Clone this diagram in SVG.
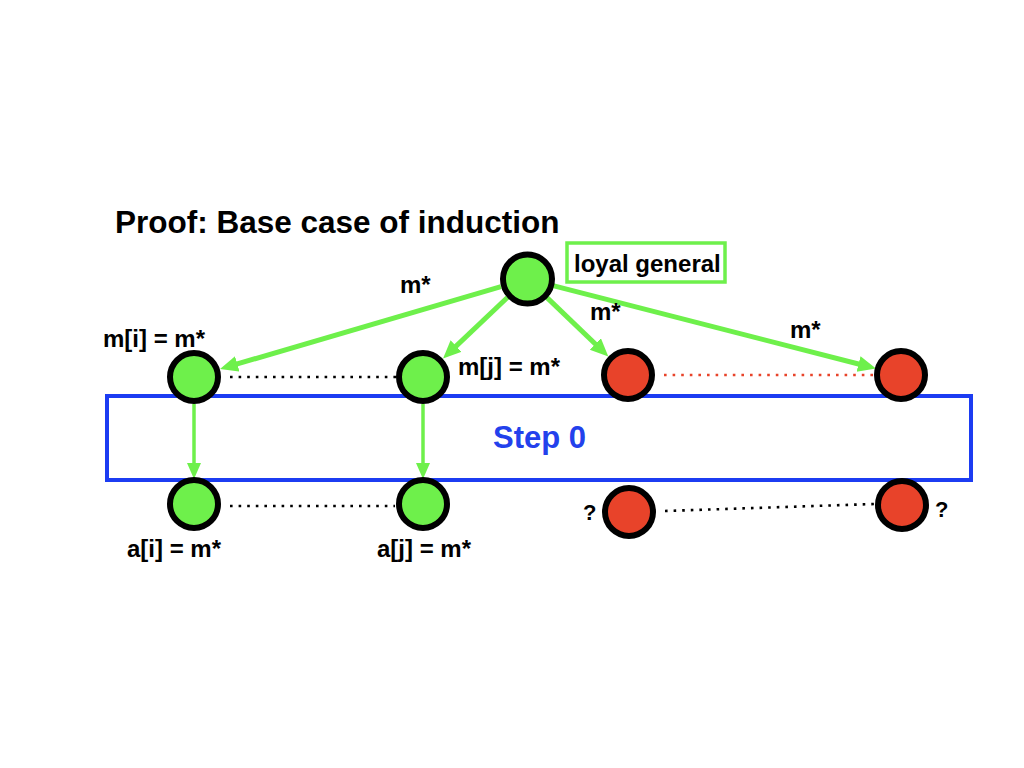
<svg xmlns="http://www.w3.org/2000/svg" width="1024" height="768" viewBox="0 0 1024 768">
<style>
text{font-family:"Liberation Sans",Arial,sans-serif;font-weight:bold;fill:#000}
.lbl{font-size:24px}
.node{stroke:#000;stroke-width:6}
.g{fill:#6EF04B}
.r{fill:#E8432A}
.arr{stroke:#6EF04B;stroke-width:5;fill:none}
.varr{stroke:#6EF04B;stroke-width:3.5;fill:none}
.dot{stroke:#000;stroke-width:2.6;stroke-dasharray:2.6 6;fill:none}
.rdot{stroke:#E8432A;stroke-width:2.6;stroke-dasharray:2.6 6;fill:none}
</style>
<defs>
<marker id="ah" markerUnits="userSpaceOnUse" markerWidth="20" markerHeight="18" refX="8" refY="8" orient="auto">
<path d="M0,0 L18,8 L0,16 z" fill="#6EF04B"/>
</marker>
<marker id="ahs" markerUnits="userSpaceOnUse" markerWidth="18" markerHeight="16" refX="6" refY="7" orient="auto">
<path d="M0,0 L16,7 L0,14 z" fill="#6EF04B"/>
</marker>
</defs>
<rect width="1024" height="768" fill="#fff"/>
<text id="title" x="115" y="233" style="font-size:31.5px">Proof: Base case of induction</text>
<g id="step0">
<rect x="107" y="396" width="864" height="84" fill="none" stroke="#1C3CF2" stroke-width="4"/>
<text x="493" y="448" style="font-size:31px;fill:#2341EC">Step 0</text>
</g>
<g id="connectors">
<line class="arr" x1="501" y1="286.6" x2="229.6" y2="366.2" marker-end="url(#ah)"/>
<line class="arr" x1="507.4" y1="297.5" x2="450.3" y2="351.6" marker-end="url(#ah)"/>
<line class="arr" x1="547" y1="297.6" x2="601.1" y2="349.5" marker-end="url(#ah)"/>
<line class="arr" x1="553" y1="285.7" x2="866.3" y2="366" marker-end="url(#ah)"/>
<line class="varr" x1="194" y1="404" x2="194" y2="469" marker-end="url(#ahs)"/>
<line class="varr" x1="423" y1="404" x2="423" y2="469" marker-end="url(#ahs)"/>
<line class="dot" x1="230" y1="377" x2="396" y2="377"/>
<line class="rdot" x1="664" y1="375" x2="875" y2="375"/>
<line class="dot" x1="230" y1="506" x2="395" y2="506"/>
<line class="dot" x1="665" y1="511" x2="874" y2="504"/>
<text class="lbl" x="400" y="293">m*</text>
<text class="lbl" x="590" y="320">m*</text>
<text class="lbl" x="790" y="338">m*</text>
</g>
<g id="general">
<circle class="node g" cx="527.5" cy="279" r="24.5"/>
<rect x="567" y="243" width="158" height="39" fill="none" stroke="#6EF04B" stroke-width="3.5"/>
<text class="lbl" x="574" y="272">loyal general</text>
</g>
<g id="node-i">
<circle class="node g" cx="194" cy="377" r="24"/>
<text class="lbl" x="103" y="347">m[i] = m*</text>
</g>
<g id="node-j">
<circle class="node g" cx="423" cy="377" r="24"/>
<text class="lbl" x="458" y="375">m[j] = m*</text>
</g>
<g id="node-r1">
<circle class="node r" cx="628" cy="375" r="24"/>
</g>
<g id="node-r2">
<circle class="node r" cx="901" cy="375" r="24"/>
</g>
<g id="out-i">
<circle class="node g" cx="194" cy="504" r="24"/>
<text class="lbl" x="127" y="557">a[i] = m*</text>
</g>
<g id="out-j">
<circle class="node g" cx="423" cy="504" r="24"/>
<text class="lbl" x="377" y="557">a[j] = m*</text>
</g>
<g id="out-r1">
<circle class="node r" cx="629" cy="512" r="24"/>
<text x="583" y="520" style="font-size:22px">?</text>
</g>
<g id="out-r2">
<circle class="node r" cx="902" cy="505" r="24"/>
<text x="935" y="517" style="font-size:22px">?</text>
</g>
</svg>
